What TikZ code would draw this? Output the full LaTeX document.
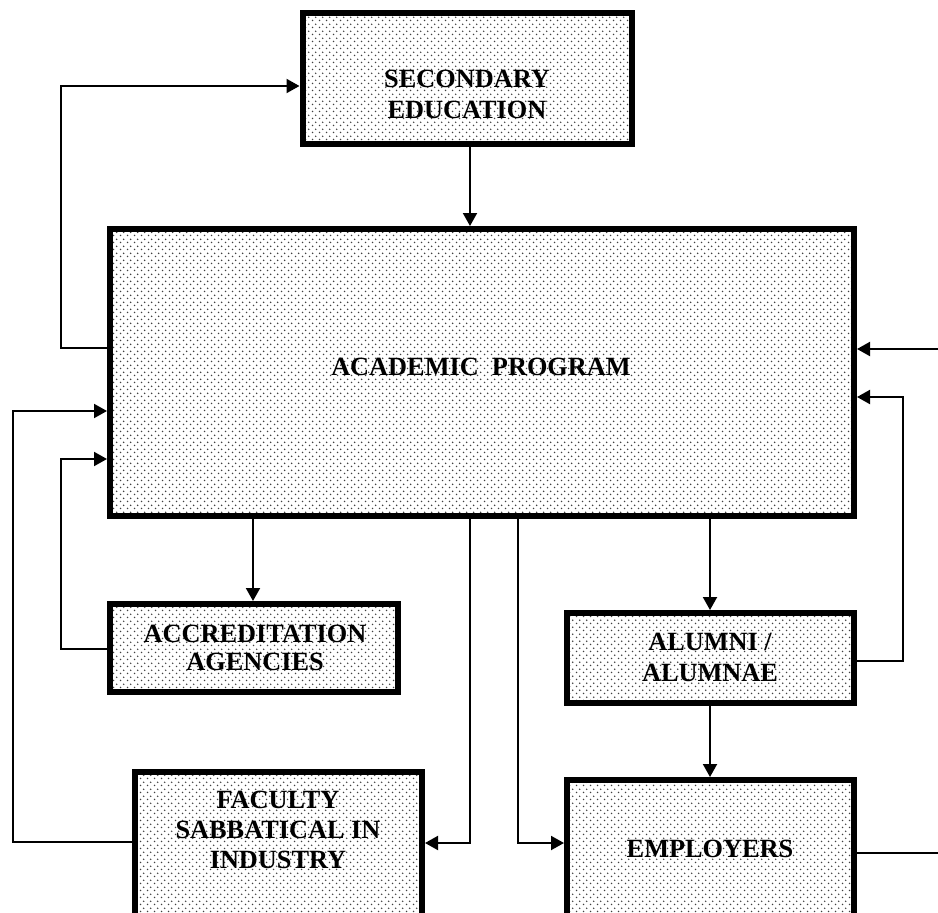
\documentclass[tikz,border=0pt]{standalone}
\usepackage{fontspec}
\setmainfont{Liberation Serif}
\usetikzlibrary{arrows.meta,patterns.meta}
\tikzdeclarepattern{
  name=mydots,
  type=uncolored,
  bounding box={(0pt,0pt) and (6.6pt,6.6pt)},
  tile size={(6.6pt,6.6pt)},
  code={\fill (1.65pt,1.65pt) circle (0.9pt); \fill (4.95pt,4.95pt) circle (0.9pt);}
}
\tikzset{
  box/.style={draw, line width=6pt, outer sep=3pt, inner sep=0pt, anchor=north west,
    pattern=mydots, pattern color=black!75},
  lbl/.style={font=\bfseries\fontsize{26.3}{30}\selectfont, inner sep=0pt, anchor=base},
  conn/.style={line width=2pt},
  arr/.style={conn, -{Triangle[length=13pt,width=14pt]}}
}
\begin{document}
\begin{tikzpicture}[x=1pt,y=-1pt]
\clip (0,0) rectangle (938,913);
\fill[white] (0,0) rectangle (938,913);
% boxes (corner = outer corner)
\node[box, minimum width=329.5pt, minimum height=130.5pt] (sec) at (299.5,10) {};
\node[box, minimum width=744pt, minimum height=287pt] (acad) at (107,226) {};
\node[box, minimum width=287.5pt, minimum height=88pt] (acc) at (107,601) {};
\node[box, minimum width=287pt, minimum height=90pt] (alu) at (564,610) {};
\node[box, minimum width=287.5pt, minimum height=158pt] (fac) at (131.5,769) {};
\node[box, minimum width=287pt, minimum height=136pt] (emp) at (564,777) {};
% labels
\node[lbl] (t1) at (467,87) {SECONDARY};
\node[lbl] (t2) at (467,118) {EDUCATION};
\node[lbl] (t3) at (481,375) {ACADEMIC\ \ PROGRAM};
\node[lbl] (t4) at (255,642) {ACCREDITATION};
\node[lbl] (t5) at (255,670) {AGENCIES};
\node[lbl] (t6) at (710,650) {ALUMNI /};
\node[lbl] (t7) at (710,681) {ALUMNAE};
\node[lbl] (t8) at (278,808) {FACULTY};
\node[lbl] (t9) at (278,838) {SABBATICAL IN};
\node[lbl] (t10) at (278,868) {INDUSTRY};
\node[lbl] (t11) at (710,857) {EMPLOYERS};
% free ends at the right margin
\coordinate (rin) at (938,349);
\coordinate (rout) at (938,853);
% connectors
\draw[arr] (sec.south -| 470,0) -- (acad.north -| 470,0);
\draw[arr] (acad.west |- 0,348) -| (61,86) -- (sec.west |- 0,86);
\draw[arr] (fac.west |- 0,842) -| (13,411) -- (acad.west |- 0,411);
\draw[arr] (acc.west |- 0,649) -| (61,459) -- (acad.west |- 0,459);
\draw[arr] (acad.south -| 253,0) -- (acc.north -| 253,0);
\draw[arr] (acad.south -| 470,0) |- (fac.east |- 0,843);
\draw[arr] (acad.south -| 518,0) |- (emp.west |- 0,843);
\draw[arr] (acad.south -| 710,0) -- (alu.north -| 710,0);
\draw[arr] (alu.south -| 710,0) -- (emp.north -| 710,0);
\draw[arr] (alu.east |- 0,661) -| (903,397) -- (acad.east |- 0,397);
\draw[conn] (emp.east |- 0,853) -- (rout);
\draw[arr] (rin) -- (acad.east |- rin);
\end{tikzpicture}
\end{document}
